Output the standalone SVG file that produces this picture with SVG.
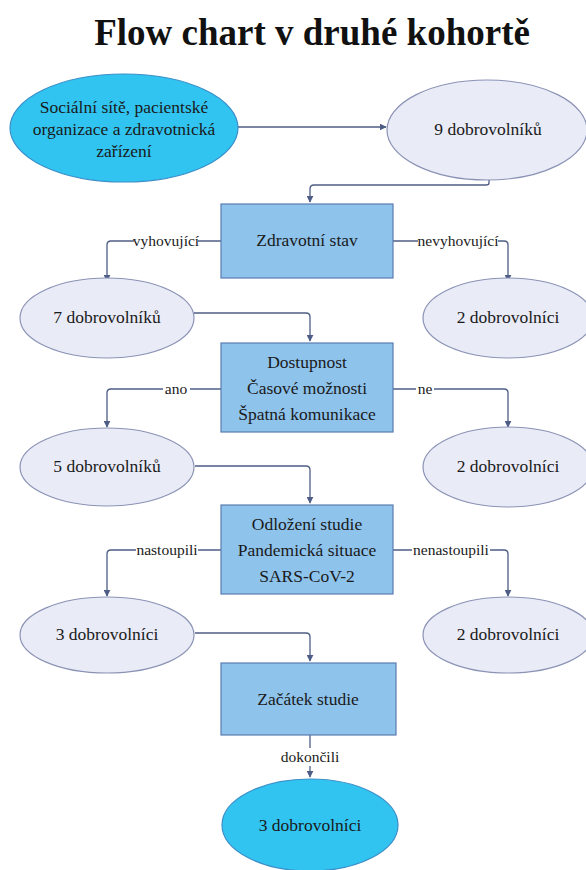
<svg xmlns="http://www.w3.org/2000/svg" width="586" height="870" viewBox="0 0 586 870">
<defs>
<marker id="ah" viewBox="0 0 10 10" refX="9" refY="5" markerWidth="7" markerHeight="7" orient="auto" markerUnits="userSpaceOnUse">
<path d="M0,0 L10,5 L0,10 z" fill="#4d5d85"/>
</marker>
</defs>
<style>
text{font-family:"Liberation Serif","Times New Roman",serif;fill:#1a1a1a;text-anchor:middle}
.t{font-size:17.5px}
.l{font-size:15.5px}
.title{font-size:37px;font-weight:bold;fill:#111}
.box{fill:#8ec3ec;stroke:#5a7bb0;stroke-width:1.2}
.ell{fill:#e9ebf7;stroke:#8b93b5;stroke-width:1.2}
.cy{fill:#31c4f1;stroke:#3a8fc8;stroke-width:1.2}
.c{fill:none;stroke:#4d5d85;stroke-width:1.3}
.bg{fill:#fff}
</style>
<rect width="586" height="870" fill="#fff"/>
<text class="title" x="312" y="45">Flow chart v druhé kohortě</text>

<g id="connectors">
<path class="c" d="M238,127 H386" marker-end="url(#ah)"/>
<path class="c" d="M489,180 V183 Q489,185 486,185 H314 Q310,185 310,189 V202" marker-end="url(#ah)"/>
<path class="c" d="M221,241 H111 Q107,241 107,245 V281" marker-end="url(#ah)"/>
<path class="c" d="M393,241 H504 Q508,241 508,245 V281" marker-end="url(#ah)"/>
<path class="c" d="M194,313 H306 Q310,313 310,317 V341" marker-end="url(#ah)"/>
<path class="c" d="M221,389 H111 Q107,389 107,393 V427" marker-end="url(#ah)"/>
<path class="c" d="M393,389 H504 Q508,389 508,393 V427" marker-end="url(#ah)"/>
<path class="c" d="M195,466 H306 Q310,466 310,470 V503" marker-end="url(#ah)"/>
<path class="c" d="M221,550 H111 Q107,550 107,554 V596" marker-end="url(#ah)"/>
<path class="c" d="M393,550 H504 Q508,550 508,554 V596" marker-end="url(#ah)"/>
<path class="c" d="M195,633 H306 Q310,633 310,637 V661" marker-end="url(#ah)"/>
<path class="c" d="M310,735 V777" marker-end="url(#ah)"/>
<rect class="bg" x="134" y="232" width="64" height="18"/>
<text class="l" x="166" y="246">vyhovující</text>
<rect class="bg" x="418" y="232" width="80" height="18"/>
<text class="l" x="458" y="246">nevyhovující</text>
<rect class="bg" x="163" y="380" width="27" height="18"/>
<text class="l" x="176" y="394">ano</text>
<rect class="bg" x="416" y="380" width="18" height="18"/>
<text class="l" x="425" y="394">ne</text>
<rect class="bg" x="136" y="541" width="62" height="18"/>
<text class="l" x="167" y="555">nastoupili</text>
<rect class="bg" x="412" y="541" width="78" height="18"/>
<text class="l" x="451" y="555">nenastoupili</text>
<rect class="bg" x="281" y="748" width="58" height="18"/>
<text class="l" x="310" y="762">dokončili</text>
</g>

<g id="n-start">
<ellipse class="cy" cx="124" cy="128" rx="114" ry="54"/>
<text class="t" x="124" y="113">Sociální sítě, pacientské</text>
<text class="t" x="124" y="135">organizace a zdravotnická</text>
<text class="t" x="124" y="157">zařízení</text>
</g>
<g id="n-9">
<ellipse class="ell" cx="487" cy="130" rx="100" ry="50"/>
<text class="t" x="488" y="135">9 dobrovolníků</text>
</g>
<g id="n-zdravotni">
<rect class="box" x="221" y="204" width="172" height="74"/>
<text class="t" x="307" y="246">Zdravotní stav</text>
</g>
<g id="n-7">
<ellipse class="ell" cx="107" cy="318" rx="87" ry="40"/>
<text class="t" x="107" y="323">7 dobrovolníků</text>
</g>
<g id="n-2a">
<ellipse class="ell" cx="508" cy="318" rx="85" ry="40"/>
<text class="t" x="508" y="323">2 dobrovolníci</text>
</g>
<g id="n-dostupnost">
<rect class="box" x="221" y="343" width="172" height="89"/>
<text class="t" x="307" y="368">Dostupnost</text>
<text class="t" x="307" y="394">Časové možnosti</text>
<text class="t" x="307" y="420">Špatná komunikace</text>
</g>
<g id="n-5">
<ellipse class="ell" cx="107" cy="467" rx="87" ry="39"/>
<text class="t" x="107" y="472">5 dobrovolníků</text>
</g>
<g id="n-2b">
<ellipse class="ell" cx="508" cy="467" rx="85" ry="40"/>
<text class="t" x="508" y="472">2 dobrovolníci</text>
</g>
<g id="n-odlozeni">
<rect class="box" x="221" y="505" width="172" height="89"/>
<text class="t" x="307" y="530">Odložení studie</text>
<text class="t" x="307" y="556">Pandemická situace</text>
<text class="t" x="307" y="582">SARS-CoV-2</text>
</g>
<g id="n-3">
<ellipse class="ell" cx="107" cy="635" rx="87" ry="38"/>
<text class="t" x="107" y="640">3 dobrovolníci</text>
</g>
<g id="n-2c">
<ellipse class="ell" cx="508" cy="635" rx="85" ry="38"/>
<text class="t" x="508" y="640">2 dobrovolníci</text>
</g>
<g id="n-zacatek">
<rect class="box" x="221" y="663" width="175" height="72"/>
<text class="t" x="308" y="705">Začátek studie</text>
</g>
<g id="n-end">
<ellipse class="cy" cx="310" cy="825" rx="88" ry="46"/>
<text class="t" x="310" y="831">3 dobrovolníci</text>
</g>
</svg>
